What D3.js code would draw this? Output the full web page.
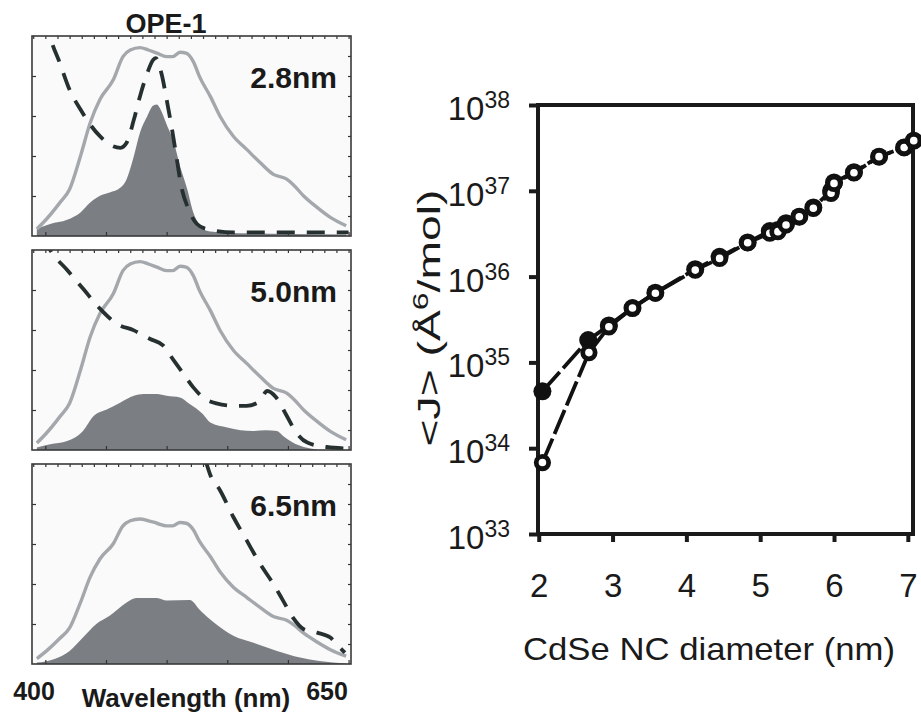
<!DOCTYPE html>
<html>
<head>
<meta charset="utf-8">
<script src="https://cdn.jsdelivr.net/npm/d3@7"></script>
<style>
  body { margin: 0; background: #fff; }
  svg text { font-family: "Liberation Sans", Arial, Helvetica, sans-serif; fill: #1a1a1a; }
</style>
</head>
<body>
<svg id="chart" width="921" height="719"></svg>
<script>
//DATA - spectra panels (values are fraction of panel height)
let panelLabels = ["2.8nm", "5.0nm", "6.5nm"];

//donor emission (grey line), same shape in every panel, scaled per panel
let emWl  = [393, 401, 412, 420, 429, 437, 445, 456, 464, 470, 478, 485, 492, 500, 505, 511, 516, 522, 527, 536, 544, 555, 566, 577, 588, 599, 604, 613, 624, 635, 648];
let emVal = [0.035, 0.085, 0.167, 0.234, 0.40, 0.566, 0.682, 0.781, 0.897, 0.930, 0.942, 0.930, 0.914, 0.897, 0.897, 0.919, 0.914, 0.872, 0.798, 0.698, 0.599, 0.499, 0.433, 0.367, 0.308, 0.284, 0.259, 0.200, 0.143, 0.093, 0.051];
let emScale = [1.0, 1.0, 0.77];

//NC absorption (dashed)
let ab28Wl  = [400, 404, 412, 420, 429, 437, 445, 453, 462, 467, 473, 478, 484, 489, 491, 496, 500, 504, 508, 512, 518, 525, 533, 555, 650];
let ab28Val = [1.1, 0.996, 0.864, 0.731, 0.632, 0.557, 0.499, 0.458, 0.441, 0.466, 0.582, 0.698, 0.814, 0.881, 0.889, 0.806, 0.682, 0.549, 0.40, 0.25, 0.134, 0.06, 0.035, 0.018, 0.018];
let ab50Wl  = [398, 404, 418, 431, 445, 459, 473, 486, 497, 506, 514, 522, 530, 541, 555, 566, 576, 583, 590, 599, 606, 616, 632, 648];
let ab50Val = [1.07, 1.0, 0.9, 0.807, 0.707, 0.631, 0.598, 0.556, 0.523, 0.447, 0.38, 0.313, 0.263, 0.233, 0.221, 0.221, 0.24, 0.295, 0.265, 0.171, 0.095, 0.037, 0.015, 0.008];
let ab65Wl  = [532, 536, 544, 555, 566, 577, 588, 596, 604, 613, 624, 635, 640, 647];
let ab65Val = [1.02, 0.945, 0.869, 0.735, 0.618, 0.501, 0.40, 0.317, 0.233, 0.174, 0.157, 0.132, 0.099, 0.057];

//spectral overlap (filled)
let ov28Wl  = [393, 404, 418, 429, 437, 445, 453, 462, 467, 473, 478, 484, 489, 492, 495, 500, 506, 511, 517, 522, 528, 533, 544, 600, 648];
let ov28Val = [0.035, 0.06, 0.081, 0.118, 0.167, 0.201, 0.217, 0.242, 0.284, 0.40, 0.516, 0.599, 0.652, 0.657, 0.632, 0.557, 0.466, 0.35, 0.234, 0.118, 0.051, 0.026, 0.018, 0.01, 0.008];
let ov50Wl  = [393, 404, 418, 431, 440, 451, 462, 473, 481, 492, 500, 511, 519, 530, 536, 550, 561, 571, 582, 591, 596, 604, 613, 624];
let ov50Val = [0.012, 0.029, 0.045, 0.095, 0.171, 0.204, 0.238, 0.271, 0.28, 0.28, 0.271, 0.263, 0.23, 0.179, 0.137, 0.112, 0.099, 0.095, 0.099, 0.095, 0.07, 0.037, 0.015, 0.003];
let ov65Wl  = [393, 407, 420, 431, 442, 453, 467, 475, 492, 500, 519, 528, 539, 555, 571, 591, 610, 626, 648];
let ov65Val = [0.007, 0.024, 0.065, 0.132, 0.20, 0.241, 0.308, 0.33, 0.33, 0.317, 0.32, 0.266, 0.207, 0.141, 0.107, 0.065, 0.032, 0.015, 0.002];

//DATA - <J> vs diameter
let diamFilled = [2.05, 2.67, 2.95, 3.27, 3.58, 4.12, 4.45, 4.83, 5.13, 5.24, 5.35, 5.53, 5.72, 5.96, 6.0, 6.27, 6.61, 6.95, 7.08];
let jFilled    = [4.6e34, 1.82e35, 2.7e35, 4.3e35, 6.5e35, 1.22e36, 1.7e36, 2.5e36, 3.4e36, 3.5e36, 4.2e36, 5.0e36, 6.4e36, 1.0e37, 1.25e37, 1.65e37, 2.5e37, 3.2e37, 3.84e37];
let diamOpen   = [2.05, 2.68, 2.95, 3.27, 3.58, 4.12, 4.45, 4.83, 5.13, 5.24, 5.35, 5.53, 5.72, 5.96, 6.0, 6.27, 6.61, 6.95, 7.08];
let jOpen      = [6.8e33, 1.3e35, 2.6e35, 4.3e35, 6.4e35, 1.19e36, 1.63e36, 2.48e36, 3.2e36, 3.34e36, 3.99e36, 4.99e36, 6.25e36, 9.35e36, 1.22e37, 1.62e37, 2.5e37, 3.2e37, 3.84e37];
let xTicksR = [2, 3, 4, 5, 6, 7];
let yExpR = [33, 34, 35, 36, 37, 38];

let zip = (a, b) => a.map((v, i) => [v, b[i]]);

let panels = [
  {label: panelLabels[0], em: zip(emWl, emVal.map(v => v * emScale[0])), ab: zip(ab28Wl, ab28Val), ov: zip(ov28Wl, ov28Val)},
  {label: panelLabels[1], em: zip(emWl, emVal.map(v => v * emScale[1])), ab: zip(ab50Wl, ab50Val), ov: zip(ov50Wl, ov50Val)},
  {label: panelLabels[2], em: zip(emWl, emVal.map(v => v * emScale[2])), ab: zip(ab65Wl, ab65Val), ov: zip(ov65Wl, ov65Val)}
];

let svg = d3.select("#chart");

//LEFT PANELS
let px0 = 32, px1 = 351, panelH = 200;
let panelTops = [36, 250, 464];
let xW = d3.scaleLinear().domain([389, 652]).range([px0, px1]);

panels.forEach(function(p, i) {
  let top = panelTops[i];
  let bottom = top + panelH;
  let yP = d3.scaleLinear().domain([0, 1]).range([bottom, top]);
  let g = svg.append("g");

  g.append("clipPath").attr("id", "clip" + i)
    .append("rect").attr("x", px0).attr("y", top).attr("width", px1 - px0).attr("height", panelH);

  g.append("rect")
    .attr("x", px0).attr("y", top).attr("width", px1 - px0).attr("height", panelH)
    .attr("fill", "#fafafa");

  let inner = g.append("g").attr("clip-path", "url(#clip" + i + ")");

  let area = d3.area()
    .x(d => xW(d[0])).y0(yP(0)).y1(d => yP(d[1]))
    .curve(d3.curveMonotoneX);
  let line = d3.line()
    .x(d => xW(d[0])).y(d => yP(d[1]))
    .curve(d3.curveMonotoneX);

  inner.append("path").attr("d", area(p.ov)).attr("fill", "#7b7f84");
  inner.append("path").attr("d", line(p.em))
    .attr("fill", "none").attr("stroke", "#a4a8ac").attr("stroke-width", 3.4);
  inner.append("path").attr("d", line(p.ab))
    .attr("fill", "none").attr("stroke", "#263030").attr("stroke-width", 3.8)
    .attr("stroke-dasharray", "18,12");

  //inward ticks on all four sides
  let ax = [
    g.append("g").attr("transform", "translate(0," + top + ")")
      .call(d3.axisBottom(xW).tickValues(d3.range(390, 651, 10)).tickSize(3).tickFormat("")),
    g.append("g").attr("transform", "translate(0," + bottom + ")")
      .call(d3.axisTop(xW).tickValues([400, 450, 500, 550, 600, 650]).tickSize(4).tickFormat("")),
    g.append("g").attr("transform", "translate(" + px0 + ",0)")
      .call(d3.axisRight(yP).tickValues([0.2, 0.4, 0.6, 0.8]).tickSize(4).tickFormat("")),
    g.append("g").attr("transform", "translate(" + px1 + ",0)")
      .call(d3.axisLeft(yP).tickValues(d3.range(0.1, 0.95, 0.1)).tickSize(3).tickFormat(""))
  ];
  ax.forEach(a => {
    a.select(".domain").remove();
    a.selectAll("line").attr("stroke", "#333").attr("stroke-width", 1.2);
  });

  g.append("rect")
    .attr("x", px0).attr("y", top).attr("width", px1 - px0).attr("height", panelH)
    .attr("fill", "none").attr("stroke", "#3a3a3a").attr("stroke-width", 1.6);

  g.append("text")
    .attr("x", 337).attr("y", top + 52)
    .attr("text-anchor", "end")
    .attr("font-size", 30).attr("font-weight", "bold")
    .text(p.label);
});

svg.append("text").attr("x", 166).attr("y", 33)
  .attr("text-anchor", "middle").attr("font-size", 27).attr("font-weight", "bold")
  .text("OPE-1");
svg.append("text").attr("x", 34).attr("y", 700)
  .attr("text-anchor", "middle").attr("font-size", 25).attr("font-weight", "bold")
  .text("400");
svg.append("text").attr("x", 327).attr("y", 700)
  .attr("text-anchor", "middle").attr("font-size", 25).attr("font-weight", "bold")
  .text("650");
svg.append("text").attr("x", 186).attr("y", 707)
  .attr("text-anchor", "middle").attr("font-size", 26).attr("font-weight", "bold")
  .text("Wavelength (nm)");

//RIGHT PLOT
let rx0 = 538, rx1 = 913, ry0 = 105, ry1 = 534;
let xR = d3.scaleLinear().domain([1.99, 7.07]).range([rx0, rx1]);
let yR = d3.scaleLog().domain([1e33, 1e38]).range([ry1, ry0]);

let yAxisR = svg.append("g").attr("transform", "translate(" + rx0 + ",0)")
  .call(d3.axisLeft(yR).tickValues(yExpR.map(e => Math.pow(10, e))).tickSize(9).tickFormat(""));
yAxisR.select(".domain").remove();
yAxisR.selectAll("line").attr("stroke", "#1a1a1a").attr("stroke-width", 4);

yExpR.forEach(function(e) {
  let t = svg.append("text")
    .attr("x", rx0 - 28).attr("y", yR(Math.pow(10, e)) + 15)
    .attr("text-anchor", "end");
  t.append("tspan").attr("font-size", 33).text("10");
  t.append("tspan").attr("font-size", 23).attr("dy", -12).text(e);
});

let xAxisR = svg.append("g").attr("transform", "translate(0," + ry1 + ")")
  .call(d3.axisBottom(xR).tickValues(xTicksR).tickSize(8).tickPadding(32).tickFormat(d3.format("d")));
xAxisR.select(".domain").remove();
xAxisR.selectAll("line").attr("stroke", "#1a1a1a").attr("stroke-width", 4);
xAxisR.selectAll("text")
  .attr("font-size", 33).attr("fill", "#1a1a1a")
  .attr("font-family", "'Liberation Sans', Arial, sans-serif");

svg.append("rect")
  .attr("x", rx0).attr("y", ry0).attr("width", rx1 - rx0).attr("height", ry1 - ry0)
  .attr("fill", "none").attr("stroke", "#1a1a1a").attr("stroke-width", 4);

let jLine = d3.line().x(d => xR(d[0])).y(d => yR(d[1]));
let filledPts = zip(diamFilled, jFilled);
let openPts = zip(diamOpen, jOpen);

svg.append("path").attr("d", jLine(filledPts))
  .attr("fill", "none").attr("stroke", "#111").attr("stroke-width", 3.8)
  .attr("stroke-dasharray", "26,5");
svg.selectAll(".ptF").data(filledPts).enter().append("circle")
  .attr("class", "ptF")
  .attr("cx", d => xR(d[0])).attr("cy", d => yR(d[1]))
  .attr("r", 9).attr("fill", "#111");

svg.append("path").attr("d", jLine(openPts))
  .attr("fill", "none").attr("stroke", "#111").attr("stroke-width", 3.8)
  .attr("stroke-dasharray", "26,5");
svg.selectAll(".ptO").data(openPts).enter().append("circle")
  .attr("class", "ptO")
  .attr("cx", d => xR(d[0])).attr("cy", d => yR(d[1]))
  .attr("r", 6.2).attr("fill", "#fff").attr("stroke", "#111").attr("stroke-width", 4.8);

svg.append("text")
  .attr("x", 709).attr("y", 660)
  .attr("text-anchor", "middle").attr("font-size", 32)
  .attr("textLength", 372).attr("lengthAdjust", "spacingAndGlyphs")
  .text("CdSe NC diameter (nm)");

let yTitle = svg.append("text")
  .attr("transform", "translate(440,318) rotate(-90)")
  .attr("text-anchor", "middle").attr("font-size", 32)
  .attr("textLength", 257).attr("lengthAdjust", "spacingAndGlyphs");
yTitle.append("tspan").text("<J> (Å");
yTitle.append("tspan").attr("font-size", 22).attr("dy", -12).text("6");
yTitle.append("tspan").attr("dy", 12).text("/mol)");
</script>
</body>
</html>
